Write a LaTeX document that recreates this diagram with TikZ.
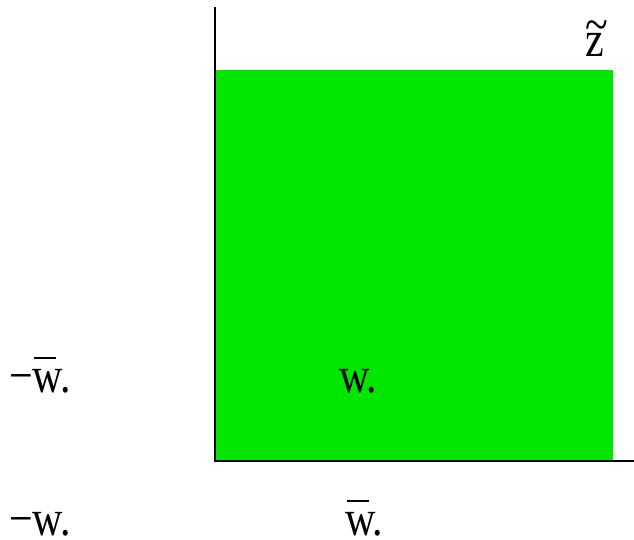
\documentclass[tikz,border=0pt]{standalone}
\usepackage{fontspec}
\setmainfont{Liberation Serif}
\usetikzlibrary{positioning}
\definecolor{region}{RGB}{0,230,0}
% letters with a bar / tilde set high above them
\newcommand{\barw}{\rlap{\hspace{1.5pt}\rule[27.5pt]{22pt}{2pt}}w}
\newcommand{\tildez}{\rlap{\raisebox{13pt}{\textasciitilde}}z}
\tikzset{
  axis/.style  = {line width=2pt, black},
  lbl/.style   = {inner sep=0pt, anchor=base west, yscale=1.2,
                  font=\fontsize{42}{50}\selectfont},
}
\begin{document}
\begin{tikzpicture}[x=1pt,y=-1pt]
  \useasboundingbox (0,0) rectangle (634,540);
  \fill[region] (215,70) rectangle (613,461);
  \coordinate (o) at (215,461);
  \coordinate (top) at (215,7);
  \coordinate (right) at (634,461);
  \draw[axis] (top) -- (o) -- (right);
  \node[lbl] (ztilde) at (585,57) {\tildez};
  \node[lbl] (mwbar) at (9,392) {−\barw.};
  \node[lbl] (w) at (339,392) {w.};
  \node[lbl] (mw) at (9,535) {−w.};
  \node[lbl] (wbar) at (345,535) {\barw.};
\end{tikzpicture}
\end{document}
